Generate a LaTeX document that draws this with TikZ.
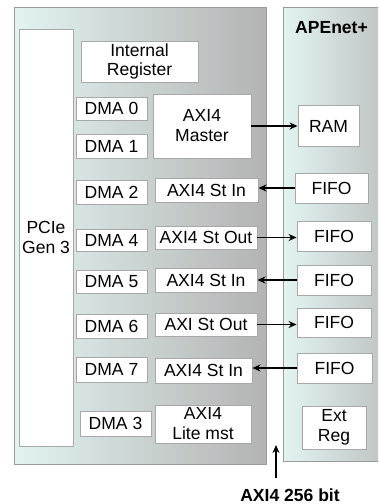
\documentclass[tikz,border=0pt]{standalone}
\usepackage{fontspec}
\setmainfont{Liberation Sans}
\usetikzlibrary{arrows.meta}
\definecolor{panelL}{HTML}{E2F4F0}
\definecolor{panelR}{HTML}{B3B3B3}
\definecolor{panelB}{HTML}{9A9A9A}
\definecolor{boxB}{HTML}{A8A8A8}
\tikzset{
  box/.style={draw=boxB, fill=white, line width=0.9bp, inner sep=0pt, align=center,
    font=\fontsize{17.6}{20}\selectfont},
  conn/.style={-{Stealth[length=8bp,width=7bp]}, line width=1.3bp, black},
  panel/.style={draw=panelB, line width=1bp, left color=panelL, right color=panelR},
  lbl/.style={font=\bfseries\fontsize{17.6}{20}\selectfont, inner sep=0pt}
}
\begin{document}
\begin{tikzpicture}[x=1bp,y=-1bp]
\useasboundingbox (0,0) rectangle (378,504);
\clip (0,0) rectangle (378,504);
% panels
\path[panel] (14,8) rectangle (266,464);
\path[panel] (283,8) rectangle (420,461);
\node[lbl, anchor=west] (apenet) at (295,28) {APEnet+};
% left column
\node[box, minimum width=54bp, minimum height=417bp] (pcie) at (46,237.5) {PCIe\\Gen 3};
\node[box, minimum width=117bp, minimum height=41bp] (intreg) at (139.5,61.5) {Internal\\Register};
\node[box, minimum width=71bp, minimum height=23bp] (dma0) at (111.5,108.5) {DMA 0};
\node[box, minimum width=71bp, minimum height=24bp] (dma1) at (111.5,146) {DMA 1};
\node[box, minimum width=98bp, minimum height=64bp] (master) at (202,126) {AXI4\\Master};
\node[box, minimum width=61bp, minimum height=41bp] (ram) at (328.5,126) {RAM};
% row DMA2
\node[box, minimum width=71bp, minimum height=24bp] (dma2) at (111.5,192) {DMA 2};
\node[box, minimum width=103bp, minimum height=24bp] (in1) at (206.5,190) {AXI4 St In};
\node[box, minimum width=73bp, minimum height=30bp] (fifo1) at (331.5,188) {FIFO};
% row DMA4
\node[box, minimum width=71bp, minimum height=22bp] (dma4) at (111.5,240) {DMA 4};
\node[box, minimum width=102bp, minimum height=23bp] (out1) at (206,237.5) {AXI4 St Out};
\node[box, minimum width=74bp, minimum height=30bp] (fifo2) at (334,236) {FIFO};
% row DMA5
\node[box, minimum width=71bp, minimum height=23bp] (dma5) at (111.5,281.5) {DMA 5};
\node[box, minimum width=102bp, minimum height=24bp] (in2) at (206,280) {AXI4 St In};
\node[box, minimum width=74bp, minimum height=30bp] (fifo3) at (334,280) {FIFO};
% row DMA6
\node[box, minimum width=71bp, minimum height=24bp] (dma6) at (111.5,326) {DMA 6};
\node[box, minimum width=102bp, minimum height=23bp] (out2) at (206,324.5) {AXI St Out};
\node[box, minimum width=74bp, minimum height=29bp] (fifo4) at (334,322.5) {FIFO};
% row DMA7
\node[box, minimum width=71bp, minimum height=25bp] (dma7) at (111.5,369.5) {DMA 7};
\node[box, minimum width=97bp, minimum height=25bp] (in3) at (203.5,370.5) {AXI4 St In};
\node[box, minimum width=75bp, minimum height=30bp] (fifo5) at (334.5,368) {FIFO};
% row DMA3
\node[box, minimum width=71bp, minimum height=25bp] (dma3) at (115.5,423.5) {DMA 3};
\node[box, minimum width=96bp, minimum height=38bp] (lite) at (203,424) {AXI4\\Lite mst};
\node[box, minimum width=64bp, minimum height=43bp] (extreg) at (334,427.5) {Ext\\Reg};
% connectors
\draw[conn] (master.east) -- (ram.west);
\draw[conn] (fifo1.west) -- (fifo1.west -| in1.east);
\draw[conn] (out1.east) -- (out1.east -| fifo2.west);
\draw[conn] (fifo3.west) -- (fifo3.west -| in2.east);
\draw[conn] (out2.east) -- (out2.east -| fifo4.west);
\draw[conn] (fifo5.west) -- (fifo5.west -| in3.east);
% bottom bus arrow
\coordinate (busbase) at (276,478);
\coordinate (bustip) at (276,445);
\draw[conn] (busbase) -- (bustip);
\node[lbl] (buslbl) at (290,495) {AXI4 256 bit};
\end{tikzpicture}
\end{document}
